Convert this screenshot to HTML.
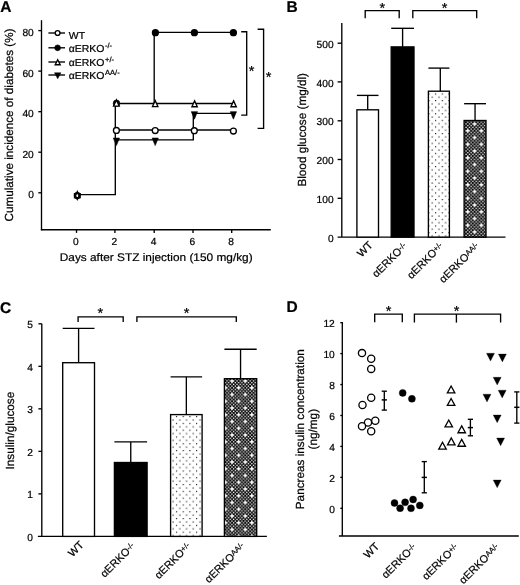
<!DOCTYPE html>
<html><head><meta charset="utf-8"><style>
html,body{margin:0;padding:0;background:#fff;}
svg{display:block;will-change:transform;}
text{font-family:"Liberation Sans",sans-serif;fill:#000;stroke:#000;stroke-width:0.22px;text-rendering:geometricPrecision;}
</style></head><body>
<svg width="520" height="585" viewBox="0 0 520 585">
<defs>
<pattern id="dotsB" patternUnits="userSpaceOnUse" x="435.03" y="93.42" width="6.7" height="6.6"><rect width="6.7" height="6.6" fill="#fff"/><rect x="0" y="0" width="1.15" height="1.15" fill="#202020"/><rect x="3.350" y="3.300" width="1.15" height="1.15" fill="#202020"/></pattern>
<pattern id="dotsC" patternUnits="userSpaceOnUse" x="175.93" y="416.03" width="6.7" height="6.8"><rect width="6.7" height="6.8" fill="#fff"/><rect x="0" y="0" width="1.15" height="1.15" fill="#202020"/><rect x="3.350" y="3.400" width="1.15" height="1.15" fill="#202020"/></pattern>
<pattern id="checkB" patternUnits="userSpaceOnUse" x="473.653" y="123.156" width="13.55" height="13.5"><rect width="13.55" height="13.5" fill="#000"/><rect x="0.169" y="1.856" width="1.355" height="1.350" fill="#fff"/><rect x="0.169" y="5.231" width="1.355" height="1.350" fill="#fff"/><rect x="0.169" y="8.606" width="1.355" height="1.350" fill="#fff"/><rect x="0.169" y="11.981" width="1.355" height="1.350" fill="#fff"/><rect x="1.863" y="0.169" width="1.355" height="1.350" fill="#fff"/><rect x="1.863" y="3.544" width="1.355" height="1.350" fill="#fff"/><rect x="1.863" y="6.919" width="1.355" height="1.350" fill="#fff"/><rect x="1.863" y="10.294" width="1.355" height="1.350" fill="#fff"/><rect x="3.557" y="1.856" width="1.355" height="1.350" fill="#fff"/><rect x="3.557" y="5.231" width="1.355" height="1.350" fill="#fff"/><rect x="3.557" y="8.606" width="1.355" height="1.350" fill="#fff"/><rect x="3.557" y="11.981" width="1.355" height="1.350" fill="#fff"/><rect x="5.251" y="0.169" width="1.355" height="1.350" fill="#fff"/><rect x="5.251" y="3.544" width="1.355" height="1.350" fill="#fff"/><rect x="5.251" y="6.919" width="1.355" height="1.350" fill="#fff"/><rect x="5.251" y="10.294" width="1.355" height="1.350" fill="#fff"/><rect x="6.944" y="1.856" width="1.355" height="1.350" fill="#fff"/><rect x="6.944" y="5.231" width="1.355" height="1.350" fill="#fff"/><rect x="6.944" y="8.606" width="1.355" height="1.350" fill="#fff"/><rect x="6.944" y="11.981" width="1.355" height="1.350" fill="#fff"/><rect x="8.638" y="0.169" width="1.355" height="1.350" fill="#fff"/><rect x="8.638" y="3.544" width="1.355" height="1.350" fill="#fff"/><rect x="8.638" y="6.919" width="1.355" height="1.350" fill="#fff"/><rect x="8.638" y="10.294" width="1.355" height="1.350" fill="#fff"/><rect x="10.332" y="1.856" width="1.355" height="1.350" fill="#fff"/><rect x="10.332" y="5.231" width="1.355" height="1.350" fill="#fff"/><rect x="10.332" y="8.606" width="1.355" height="1.350" fill="#fff"/><rect x="10.332" y="11.981" width="1.355" height="1.350" fill="#fff"/><rect x="12.026" y="0.169" width="1.355" height="1.350" fill="#fff"/><rect x="12.026" y="3.544" width="1.355" height="1.350" fill="#fff"/><rect x="12.026" y="6.919" width="1.355" height="1.350" fill="#fff"/><rect x="12.026" y="10.294" width="1.355" height="1.350" fill="#fff"/><path d="M0.847,-1.656 L1.597,0.094 L3.347,0.844 L1.597,1.594 L0.847,3.344 L0.097,1.594 L-1.653,0.844 L0.097,0.094Z M14.397,-1.656 L15.147,0.094 L16.897,0.844 L15.147,1.594 L14.397,3.344 L13.647,1.594 L11.897,0.844 L13.647,0.094Z M0.847,11.844 L1.597,13.594 L3.347,14.344 L1.597,15.094 L0.847,16.844 L0.097,15.094 L-1.653,14.344 L0.097,13.594Z M14.397,11.844 L15.147,13.594 L16.897,14.344 L15.147,15.094 L14.397,16.844 L13.647,15.094 L11.897,14.344 L13.647,13.594Z M-12.703,-1.656 L-11.953,0.094 L-10.203,0.844 L-11.953,1.594 L-12.703,3.344 L-13.453,1.594 L-15.203,0.844 L-13.453,0.094Z M0.847,-15.156 L1.597,-13.406 L3.347,-12.656 L1.597,-11.906 L0.847,-10.156 L0.097,-11.906 L-1.653,-12.656 L0.097,-13.406Z M7.622,5.094 L8.372,6.844 L10.122,7.594 L8.372,8.344 L7.622,10.094 L6.872,8.344 L5.122,7.594 L6.872,6.844Z" fill="#fff"/></pattern>
<pattern id="checkC" patternUnits="userSpaceOnUse" x="231.175" y="380.156" width="13.2" height="13.5"><rect width="13.2" height="13.5" fill="#000"/><rect x="0.165" y="1.856" width="1.320" height="1.350" fill="#fff"/><rect x="0.165" y="5.231" width="1.320" height="1.350" fill="#fff"/><rect x="0.165" y="8.606" width="1.320" height="1.350" fill="#fff"/><rect x="0.165" y="11.981" width="1.320" height="1.350" fill="#fff"/><rect x="1.815" y="0.169" width="1.320" height="1.350" fill="#fff"/><rect x="1.815" y="3.544" width="1.320" height="1.350" fill="#fff"/><rect x="1.815" y="6.919" width="1.320" height="1.350" fill="#fff"/><rect x="1.815" y="10.294" width="1.320" height="1.350" fill="#fff"/><rect x="3.465" y="1.856" width="1.320" height="1.350" fill="#fff"/><rect x="3.465" y="5.231" width="1.320" height="1.350" fill="#fff"/><rect x="3.465" y="8.606" width="1.320" height="1.350" fill="#fff"/><rect x="3.465" y="11.981" width="1.320" height="1.350" fill="#fff"/><rect x="5.115" y="0.169" width="1.320" height="1.350" fill="#fff"/><rect x="5.115" y="3.544" width="1.320" height="1.350" fill="#fff"/><rect x="5.115" y="6.919" width="1.320" height="1.350" fill="#fff"/><rect x="5.115" y="10.294" width="1.320" height="1.350" fill="#fff"/><rect x="6.765" y="1.856" width="1.320" height="1.350" fill="#fff"/><rect x="6.765" y="5.231" width="1.320" height="1.350" fill="#fff"/><rect x="6.765" y="8.606" width="1.320" height="1.350" fill="#fff"/><rect x="6.765" y="11.981" width="1.320" height="1.350" fill="#fff"/><rect x="8.415" y="0.169" width="1.320" height="1.350" fill="#fff"/><rect x="8.415" y="3.544" width="1.320" height="1.350" fill="#fff"/><rect x="8.415" y="6.919" width="1.320" height="1.350" fill="#fff"/><rect x="8.415" y="10.294" width="1.320" height="1.350" fill="#fff"/><rect x="10.065" y="1.856" width="1.320" height="1.350" fill="#fff"/><rect x="10.065" y="5.231" width="1.320" height="1.350" fill="#fff"/><rect x="10.065" y="8.606" width="1.320" height="1.350" fill="#fff"/><rect x="10.065" y="11.981" width="1.320" height="1.350" fill="#fff"/><rect x="11.715" y="0.169" width="1.320" height="1.350" fill="#fff"/><rect x="11.715" y="3.544" width="1.320" height="1.350" fill="#fff"/><rect x="11.715" y="6.919" width="1.320" height="1.350" fill="#fff"/><rect x="11.715" y="10.294" width="1.320" height="1.350" fill="#fff"/><path d="M0.825,-1.656 L1.575,0.094 L3.325,0.844 L1.575,1.594 L0.825,3.344 L0.075,1.594 L-1.675,0.844 L0.075,0.094Z M14.025,-1.656 L14.775,0.094 L16.525,0.844 L14.775,1.594 L14.025,3.344 L13.275,1.594 L11.525,0.844 L13.275,0.094Z M0.825,11.844 L1.575,13.594 L3.325,14.344 L1.575,15.094 L0.825,16.844 L0.075,15.094 L-1.675,14.344 L0.075,13.594Z M14.025,11.844 L14.775,13.594 L16.525,14.344 L14.775,15.094 L14.025,16.844 L13.275,15.094 L11.525,14.344 L13.275,13.594Z M-12.375,-1.656 L-11.625,0.094 L-9.875,0.844 L-11.625,1.594 L-12.375,3.344 L-13.125,1.594 L-14.875,0.844 L-13.125,0.094Z M0.825,-15.156 L1.575,-13.406 L3.325,-12.656 L1.575,-11.906 L0.825,-10.156 L0.075,-11.906 L-1.675,-12.656 L0.075,-13.406Z M7.425,5.094 L8.175,6.844 L9.925,7.594 L8.175,8.344 L7.425,10.094 L6.675,8.344 L4.925,7.594 L6.675,6.844Z" fill="#fff"/></pattern>
</defs>
<rect width="520" height="585" fill="#fff"/>
<text x="0.2" y="11.9" font-size="15.5" text-anchor="start" font-weight="bold" >A</text>
<line x1="41.5" y1="20.2" x2="41.5" y2="230.29999999999998" stroke="#000" stroke-width="1.35"/>
<line x1="40.9" y1="229.7" x2="270.8" y2="229.7" stroke="#000" stroke-width="1.35"/>
<line x1="38.3" y1="30.6" x2="41.5" y2="30.6" stroke="#000" stroke-width="1.35"/>
<text x="33.8" y="36.0" font-size="10.2" text-anchor="end" font-weight="normal" >80</text>
<line x1="38.3" y1="71.1" x2="41.5" y2="71.1" stroke="#000" stroke-width="1.35"/>
<text x="33.8" y="76.5" font-size="10.2" text-anchor="end" font-weight="normal" >60</text>
<line x1="38.3" y1="111.7" x2="41.5" y2="111.7" stroke="#000" stroke-width="1.35"/>
<text x="33.8" y="117.10000000000001" font-size="10.2" text-anchor="end" font-weight="normal" >40</text>
<line x1="38.3" y1="152.2" x2="41.5" y2="152.2" stroke="#000" stroke-width="1.35"/>
<text x="33.8" y="157.6" font-size="10.2" text-anchor="end" font-weight="normal" >20</text>
<line x1="38.3" y1="192.8" x2="41.5" y2="192.8" stroke="#000" stroke-width="1.35"/>
<text x="33.8" y="198.20000000000002" font-size="10.2" text-anchor="end" font-weight="normal" >0</text>
<line x1="76.5" y1="229.7" x2="76.5" y2="232.89999999999998" stroke="#000" stroke-width="1.35"/>
<text x="75.9" y="244.5" font-size="10.2" text-anchor="middle" font-weight="normal" >0</text>
<line x1="114.9" y1="229.7" x2="114.9" y2="232.89999999999998" stroke="#000" stroke-width="1.35"/>
<text x="114.30000000000001" y="244.5" font-size="10.2" text-anchor="middle" font-weight="normal" >2</text>
<line x1="154.2" y1="229.7" x2="154.2" y2="232.89999999999998" stroke="#000" stroke-width="1.35"/>
<text x="153.6" y="244.5" font-size="10.2" text-anchor="middle" font-weight="normal" >4</text>
<line x1="193" y1="229.7" x2="193" y2="232.89999999999998" stroke="#000" stroke-width="1.35"/>
<text x="192.4" y="244.5" font-size="10.2" text-anchor="middle" font-weight="normal" >6</text>
<line x1="231.7" y1="229.7" x2="231.7" y2="232.89999999999998" stroke="#000" stroke-width="1.35"/>
<text x="231.1" y="244.5" font-size="10.2" text-anchor="middle" font-weight="normal" >8</text>
<text transform="translate(156.2,260.7) scale(1.0,0.93)" font-size="11.85" text-anchor="middle" font-weight="normal" >Days after STZ injection (150 mg/kg)</text>
<text transform="translate(13.35,125.0) rotate(-90)" font-size="11.7" text-anchor="middle">Cumulative incidence of diabetes (%)</text>
<polyline points="77,194.6 115.3,194.6 115.3,103.5 232.3,103.5" fill="none" stroke="#000" stroke-width="1.35" stroke-linejoin="miter"/>
<polyline points="154.2,103.5 154.2,32.3 232.3,32.3" fill="none" stroke="#000" stroke-width="1.35" stroke-linejoin="miter"/>
<polyline points="115.3,130 232.3,130" fill="none" stroke="#000" stroke-width="1.35" stroke-linejoin="miter"/>
<polyline points="115.3,139.8 193.3,139.8 193.3,113.4 232.3,113.4" fill="none" stroke="#000" stroke-width="1.35" stroke-linejoin="miter"/>
<circle cx="77.3" cy="195.5" r="2.95" fill="#fff" stroke="#000" stroke-width="1.35"/>
<polygon points="77.30,191.65 80.00,197.55 74.60,197.55" fill="#fff" stroke="#000" stroke-width="1.35" stroke-linejoin="miter"/>
<polygon points="74.60,193.65 80.00,193.65 77.30,199.55" fill="none" stroke="#000" stroke-width="1.3" stroke-linejoin="miter"/>
<circle cx="116.5" cy="103.3" r="3.3" fill="#000" stroke="#000" stroke-width="0.6"/>
<polygon points="116.40,99.85 119.30,106.15 113.50,106.15" fill="#fff" stroke="#000" stroke-width="1.35" stroke-linejoin="miter"/>
<circle cx="116.4" cy="130.4" r="2.95" fill="#fff" stroke="#000" stroke-width="1.35"/>
<polygon points="113.30,138.05 119.50,138.05 116.40,145.55" fill="#000" stroke="#000" stroke-width="0.6" stroke-linejoin="miter"/>
<polygon points="155.20,100.65 157.90,106.55 152.50,106.55" fill="#fff" stroke="#000" stroke-width="1.35" stroke-linejoin="miter"/>
<circle cx="155.2" cy="130.5" r="2.95" fill="#fff" stroke="#000" stroke-width="1.35"/>
<polygon points="152.10,138.05 158.30,138.05 155.20,145.55" fill="#000" stroke="#000" stroke-width="0.6" stroke-linejoin="miter"/>
<circle cx="155.4" cy="32.7" r="2.95" fill="#000" stroke="#000" stroke-width="1.35"/>
<polygon points="194.60,100.85 197.30,106.75 191.90,106.75" fill="#fff" stroke="#000" stroke-width="1.35" stroke-linejoin="miter"/>
<circle cx="194.3" cy="130.7" r="2.95" fill="#fff" stroke="#000" stroke-width="1.35"/>
<polygon points="191.30,111.65 197.50,111.65 194.40,119.15" fill="#000" stroke="#000" stroke-width="0.6" stroke-linejoin="miter"/>
<circle cx="194.4" cy="32.7" r="2.95" fill="#000" stroke="#000" stroke-width="1.35"/>
<polygon points="233.60,100.85 236.30,106.75 230.90,106.75" fill="#fff" stroke="#000" stroke-width="1.35" stroke-linejoin="miter"/>
<circle cx="233.4" cy="131" r="2.95" fill="#fff" stroke="#000" stroke-width="1.35"/>
<polygon points="230.30,111.65 236.50,111.65 233.40,119.15" fill="#000" stroke="#000" stroke-width="0.6" stroke-linejoin="miter"/>
<circle cx="233.4" cy="32.7" r="2.95" fill="#000" stroke="#000" stroke-width="1.35"/>
<polyline points="241.2,31.7 246.7,31.7 246.7,115.1 241.2,115.1" fill="none" stroke="#000" stroke-width="1.35" stroke-linejoin="miter"/>
<polyline points="257.6,29.2 263.6,29.2 263.6,128.3 257.6,128.3" fill="none" stroke="#000" stroke-width="1.35" stroke-linejoin="miter"/>
<text x="251.5" y="76.095" font-size="14.5" text-anchor="middle" font-weight="normal" >*</text>
<text x="268.5" y="81.99499999999999" font-size="14.5" text-anchor="middle" font-weight="normal" >*</text>
<line x1="48.4" y1="33.0" x2="65" y2="33.0" stroke="#000" stroke-width="1.35"/>
<text transform="translate(68.8,38.5) scale(1.035,1.0)" font-size="10.1" text-anchor="start" font-weight="normal" >WT</text>
<line x1="48.4" y1="47.8" x2="65" y2="47.8" stroke="#000" stroke-width="1.35"/>
<text transform="translate(68.8,52.4) scale(1.035,1.0)" font-size="10.1" text-anchor="start" font-weight="normal" >αERKO<tspan dx="0.5" font-size="7.3" dy="-4.1">-/-</tspan></text>
<line x1="48.4" y1="62.0" x2="65" y2="62.0" stroke="#000" stroke-width="1.35"/>
<text transform="translate(68.8,65.6) scale(1.035,1.0)" font-size="10.1" text-anchor="start" font-weight="normal" >αERKO<tspan dx="0.5" font-size="7.3" dy="-4.1">+/-</tspan></text>
<line x1="48.4" y1="75.0" x2="65" y2="75.0" stroke="#000" stroke-width="1.35"/>
<text transform="translate(68.8,79.4) scale(1.035,1.0)" font-size="10.1" text-anchor="start" font-weight="normal" >αERKO<tspan dx="0.5" font-size="7.3" dy="-4.1">AA/-</tspan></text>
<circle cx="57.6" cy="33.0" r="2.4" fill="#fff" stroke="#000" stroke-width="1.35"/>
<circle cx="57.6" cy="47.8" r="2.9" fill="#000" stroke="#000" stroke-width="0.6"/>
<polygon points="57.70,59.70 60.20,64.70 55.20,64.70" fill="#fff" stroke="#000" stroke-width="1.35" stroke-linejoin="miter"/>
<polygon points="54.50,72.80 60.90,72.80 57.70,78.80" fill="#000" stroke="#000" stroke-width="0.5" stroke-linejoin="miter"/>
<text x="286.6" y="11.9" font-size="15.5" text-anchor="start" font-weight="bold" >B</text>
<line x1="341.8" y1="23" x2="341.8" y2="237.1" stroke="#000" stroke-width="1.35"/>
<line x1="337.6" y1="237.1" x2="505.5" y2="237.1" stroke="#000" stroke-width="1.35"/>
<line x1="337.6" y1="43.2" x2="341.8" y2="43.2" stroke="#000" stroke-width="1.35"/>
<text x="333.6" y="47.800000000000004" font-size="10.2" text-anchor="end" font-weight="normal" >500</text>
<line x1="337.6" y1="81.9" x2="341.8" y2="81.9" stroke="#000" stroke-width="1.35"/>
<text x="333.6" y="86.5" font-size="10.2" text-anchor="end" font-weight="normal" >400</text>
<line x1="337.6" y1="120.8" x2="341.8" y2="120.8" stroke="#000" stroke-width="1.35"/>
<text x="333.6" y="125.39999999999999" font-size="10.2" text-anchor="end" font-weight="normal" >300</text>
<line x1="337.6" y1="159.5" x2="341.8" y2="159.5" stroke="#000" stroke-width="1.35"/>
<text x="333.6" y="164.1" font-size="10.2" text-anchor="end" font-weight="normal" >200</text>
<line x1="337.6" y1="198.3" x2="341.8" y2="198.3" stroke="#000" stroke-width="1.35"/>
<text x="333.6" y="202.9" font-size="10.2" text-anchor="end" font-weight="normal" >100</text>
<text x="333.6" y="241.7" font-size="10.2" text-anchor="end" font-weight="normal" >0</text>
<text transform="translate(305.8,129.8) rotate(-90)" font-size="11.75" text-anchor="middle">Blood glucose (mg/dl)</text>
<line x1="367.7" y1="95.4" x2="367.7" y2="109.8" stroke="#000" stroke-width="1.35"/>
<line x1="356.9" y1="95.4" x2="378.5" y2="95.4" stroke="#000" stroke-width="1.35"/>
<rect x="356.9" y="109.8" width="21.600000000000023" height="127.3" fill="#fff" stroke="#000" stroke-width="1.35"/>
<line x1="402.6" y1="28.3" x2="402.6" y2="46.9" stroke="#000" stroke-width="1.35"/>
<line x1="391.2" y1="28.3" x2="414" y2="28.3" stroke="#000" stroke-width="1.35"/>
<rect x="391.2" y="46.9" width="22.80000000000001" height="190.2" fill="#000" stroke="#000" stroke-width="1.35"/>
<line x1="440.3" y1="68.1" x2="440.3" y2="91.2" stroke="#000" stroke-width="1.35"/>
<line x1="428.4" y1="68.1" x2="449.4" y2="68.1" stroke="#000" stroke-width="1.35"/>
<rect x="428.4" y="91.2" width="21.0" height="145.89999999999998" fill="url(#dotsB)" stroke="#000" stroke-width="1.35"/>
<line x1="475.05" y1="103.7" x2="475.05" y2="120.5" stroke="#000" stroke-width="1.35"/>
<line x1="464.1" y1="103.7" x2="486" y2="103.7" stroke="#000" stroke-width="1.35"/>
<rect x="464.1" y="120.5" width="21.899999999999977" height="116.6" fill="url(#checkB)" stroke="#000" stroke-width="1.35"/>
<text transform="translate(373.5,245.8) rotate(-45)" font-size="10.8" text-anchor="end">WT</text>
<text transform="translate(407.6,247) rotate(-45)" font-size="10.8" text-anchor="end">αERKO<tspan font-size="7.6" dy="-2.0">-/-</tspan></text>
<text transform="translate(443.9,247) rotate(-45)" font-size="10.8" text-anchor="end">αERKO<tspan font-size="7.6" dy="-2.0">+/-</tspan></text>
<text transform="translate(480.05,247) rotate(-45)" font-size="10.8" text-anchor="end">αERKO<tspan font-size="7.6" dy="-2.0">AA/-</tspan></text>
<polyline points="365.2,18.2 365.2,10.6 399.2,10.6 399.2,18.2" fill="none" stroke="#000" stroke-width="1.35" stroke-linejoin="miter"/>
<polyline points="412.8,18.2 412.8,10.6 476.7,10.6 476.7,18.2" fill="none" stroke="#000" stroke-width="1.35" stroke-linejoin="miter"/>
<text x="382.4" y="13.095" font-size="14.5" text-anchor="middle" font-weight="normal" >*</text>
<text x="444.7" y="13.095" font-size="14.5" text-anchor="middle" font-weight="normal" >*</text>
<text x="0.0" y="312.7" font-size="15.5" text-anchor="start" font-weight="bold" >C</text>
<line x1="41.8" y1="323.8" x2="41.8" y2="536.4" stroke="#000" stroke-width="1.35"/>
<line x1="37.9" y1="536.4" x2="266.9" y2="536.4" stroke="#000" stroke-width="1.35"/>
<text x="32.8" y="540.6" font-size="10.2" text-anchor="end" font-weight="normal" >0</text>
<line x1="38.4" y1="493.88" x2="41.8" y2="493.88" stroke="#000" stroke-width="1.35"/>
<text x="32.8" y="498.08" font-size="10.2" text-anchor="end" font-weight="normal" >1</text>
<line x1="38.4" y1="451.35999999999996" x2="41.8" y2="451.35999999999996" stroke="#000" stroke-width="1.35"/>
<text x="32.8" y="455.55999999999995" font-size="10.2" text-anchor="end" font-weight="normal" >2</text>
<line x1="38.4" y1="408.84" x2="41.8" y2="408.84" stroke="#000" stroke-width="1.35"/>
<text x="32.8" y="413.03999999999996" font-size="10.2" text-anchor="end" font-weight="normal" >3</text>
<line x1="38.4" y1="366.31999999999994" x2="41.8" y2="366.31999999999994" stroke="#000" stroke-width="1.35"/>
<text x="32.8" y="370.5199999999999" font-size="10.2" text-anchor="end" font-weight="normal" >4</text>
<line x1="38.4" y1="323.79999999999995" x2="41.8" y2="323.79999999999995" stroke="#000" stroke-width="1.35"/>
<text x="32.8" y="327.99999999999994" font-size="10.2" text-anchor="end" font-weight="normal" >5</text>
<text transform="translate(14.2,430.6) rotate(-90)" font-size="11.75" text-anchor="middle">Insulin/glucose</text>
<line x1="78.6" y1="328.4" x2="78.6" y2="362.7" stroke="#000" stroke-width="1.35"/>
<line x1="62.7" y1="328.4" x2="94.5" y2="328.4" stroke="#000" stroke-width="1.35"/>
<rect x="62.7" y="362.7" width="31.799999999999997" height="173.7" fill="#fff" stroke="#000" stroke-width="1.35"/>
<line x1="130.75" y1="441.9" x2="130.75" y2="462.5" stroke="#000" stroke-width="1.35"/>
<line x1="114.4" y1="441.9" x2="147.1" y2="441.9" stroke="#000" stroke-width="1.35"/>
<rect x="114.4" y="462.5" width="32.69999999999999" height="73.89999999999998" fill="#000" stroke="#000" stroke-width="1.35"/>
<line x1="186.35" y1="376.8" x2="186.35" y2="414.6" stroke="#000" stroke-width="1.35"/>
<line x1="170.6" y1="376.8" x2="202.1" y2="376.8" stroke="#000" stroke-width="1.35"/>
<rect x="170.6" y="414.6" width="31.5" height="121.79999999999995" fill="url(#dotsC)" stroke="#000" stroke-width="1.35"/>
<line x1="240.55" y1="349.2" x2="240.55" y2="378.7" stroke="#000" stroke-width="1.35"/>
<line x1="224.4" y1="349.2" x2="256.7" y2="349.2" stroke="#000" stroke-width="1.35"/>
<rect x="224.4" y="378.7" width="32.29999999999998" height="157.7" fill="url(#checkC)" stroke="#000" stroke-width="1.35"/>
<text transform="translate(84.39999999999999,545.7) rotate(-45)" font-size="10.8" text-anchor="end">WT</text>
<text transform="translate(135.75,547) rotate(-45)" font-size="10.8" text-anchor="end">αERKO<tspan font-size="7.6" dy="-2.0">-/-</tspan></text>
<text transform="translate(191.35,547) rotate(-45)" font-size="10.8" text-anchor="end">αERKO<tspan font-size="7.6" dy="-2.0">+/-</tspan></text>
<text transform="translate(245.55,547) rotate(-45)" font-size="10.8" text-anchor="end">αERKO<tspan font-size="7.6" dy="-2.0">AA/-</tspan></text>
<polyline points="78.1,321.9 78.1,316.8 123.2,316.8 123.2,321.9" fill="none" stroke="#000" stroke-width="1.35" stroke-linejoin="miter"/>
<polyline points="136.9,321.9 136.9,316.8 236.3,316.8 236.3,321.9" fill="none" stroke="#000" stroke-width="1.35" stroke-linejoin="miter"/>
<text x="100.4" y="317.79499999999996" font-size="14.5" text-anchor="middle" font-weight="normal" >*</text>
<text x="186.7" y="317.79499999999996" font-size="14.5" text-anchor="middle" font-weight="normal" >*</text>
<text x="286.5" y="311.7" font-size="15.5" text-anchor="start" font-weight="bold" >D</text>
<line x1="342.3" y1="321.9" x2="342.3" y2="536" stroke="#000" stroke-width="1.35"/>
<line x1="338.9" y1="536" x2="518.8" y2="536" stroke="#000" stroke-width="1.35"/>
<line x1="340.3" y1="508.3" x2="342.3" y2="508.3" stroke="#000" stroke-width="1.35"/>
<text x="334.8" y="512.65" font-size="10.2" text-anchor="end" font-weight="normal" >0</text>
<line x1="340.3" y1="477.36" x2="342.3" y2="477.36" stroke="#000" stroke-width="1.35"/>
<text x="334.8" y="481.71000000000004" font-size="10.2" text-anchor="end" font-weight="normal" >2</text>
<line x1="340.3" y1="446.42" x2="342.3" y2="446.42" stroke="#000" stroke-width="1.35"/>
<text x="334.8" y="450.77000000000004" font-size="10.2" text-anchor="end" font-weight="normal" >4</text>
<line x1="340.3" y1="415.48" x2="342.3" y2="415.48" stroke="#000" stroke-width="1.35"/>
<text x="334.8" y="419.83000000000004" font-size="10.2" text-anchor="end" font-weight="normal" >6</text>
<line x1="340.3" y1="384.54" x2="342.3" y2="384.54" stroke="#000" stroke-width="1.35"/>
<text x="334.8" y="388.89000000000004" font-size="10.2" text-anchor="end" font-weight="normal" >8</text>
<line x1="340.3" y1="353.6" x2="342.3" y2="353.6" stroke="#000" stroke-width="1.35"/>
<text x="334.8" y="357.95000000000005" font-size="10.2" text-anchor="end" font-weight="normal" >10</text>
<line x1="340.3" y1="322.65999999999997" x2="342.3" y2="322.65999999999997" stroke="#000" stroke-width="1.35"/>
<text x="334.8" y="327.01" font-size="10.2" text-anchor="end" font-weight="normal" >12</text>
<text transform="translate(304,429.2) rotate(-90)" font-size="11.75" text-anchor="middle">Pancreas insulin concentration</text>
<text transform="translate(317,429.2) rotate(-90)" font-size="11.75" text-anchor="middle">(ng/mg)</text>
<polyline points="374.7,322.2 374.7,314.1 402.3,314.1 402.3,322.2" fill="none" stroke="#000" stroke-width="1.35" stroke-linejoin="miter"/>
<polyline points="414.4,322.6 414.4,314.1 500.6,314.1 500.6,322.6" fill="none" stroke="#000" stroke-width="1.35" stroke-linejoin="miter"/>
<line x1="456.4" y1="314.1" x2="456.4" y2="322.6" stroke="#000" stroke-width="1.35"/>
<text x="388.6" y="316.09499999999997" font-size="14.5" text-anchor="middle" font-weight="normal" >*</text>
<text x="456.5" y="316.09499999999997" font-size="14.5" text-anchor="middle" font-weight="normal" >*</text>
<circle cx="362" cy="353.1" r="3.6" fill="#fff" stroke="#000" stroke-width="1.3"/>
<circle cx="371.2" cy="358.8" r="3.6" fill="#fff" stroke="#000" stroke-width="1.3"/>
<circle cx="371.2" cy="368.9" r="3.6" fill="#fff" stroke="#000" stroke-width="1.3"/>
<circle cx="371.2" cy="397.7" r="3.6" fill="#fff" stroke="#000" stroke-width="1.3"/>
<circle cx="362.5" cy="405" r="3.6" fill="#fff" stroke="#000" stroke-width="1.3"/>
<circle cx="375.3" cy="420.8" r="3.6" fill="#fff" stroke="#000" stroke-width="1.3"/>
<circle cx="368" cy="422.5" r="3.6" fill="#fff" stroke="#000" stroke-width="1.3"/>
<circle cx="362" cy="426.3" r="3.6" fill="#fff" stroke="#000" stroke-width="1.3"/>
<circle cx="371.2" cy="431.3" r="3.6" fill="#fff" stroke="#000" stroke-width="1.3"/>
<circle cx="402.7" cy="392.9" r="3.5" fill="#000" stroke="#000" stroke-width="0.4"/>
<circle cx="411.9" cy="398.8" r="3.5" fill="#000" stroke="#000" stroke-width="0.4"/>
<circle cx="394.5" cy="503" r="3.5" fill="#000" stroke="#000" stroke-width="0.4"/>
<circle cx="400.1" cy="508.2" r="3.5" fill="#000" stroke="#000" stroke-width="0.4"/>
<circle cx="405.1" cy="502.3" r="3.5" fill="#000" stroke="#000" stroke-width="0.4"/>
<circle cx="411" cy="508.3" r="3.5" fill="#000" stroke="#000" stroke-width="0.4"/>
<circle cx="413.1" cy="499.5" r="3.5" fill="#000" stroke="#000" stroke-width="0.4"/>
<circle cx="419.8" cy="505.4" r="3.5" fill="#000" stroke="#000" stroke-width="0.4"/>
<polygon points="451.10,386.05 454.85,392.95 447.35,392.95" fill="#fff" stroke="#000" stroke-width="1.3" stroke-linejoin="miter"/>
<polygon points="451.10,398.55 454.85,405.45 447.35,405.45" fill="#fff" stroke="#000" stroke-width="1.3" stroke-linejoin="miter"/>
<polygon points="448.75,420.05 452.50,426.95 445.00,426.95" fill="#fff" stroke="#000" stroke-width="1.3" stroke-linejoin="miter"/>
<polygon points="461.70,425.85 465.45,432.75 457.95,432.75" fill="#fff" stroke="#000" stroke-width="1.3" stroke-linejoin="miter"/>
<polygon points="451.30,437.95 455.05,444.85 447.55,444.85" fill="#fff" stroke="#000" stroke-width="1.3" stroke-linejoin="miter"/>
<polygon points="461.70,439.35 465.45,446.25 457.95,446.25" fill="#fff" stroke="#000" stroke-width="1.3" stroke-linejoin="miter"/>
<polygon points="442.50,442.25 446.25,449.15 438.75,449.15" fill="#fff" stroke="#000" stroke-width="1.3" stroke-linejoin="miter"/>
<polygon points="486.50,353.30 494.50,353.30 490.50,361.10" fill="#000" stroke="#000" stroke-width="0.3" stroke-linejoin="miter"/>
<polygon points="498.40,354.10 506.40,354.10 502.40,361.90" fill="#000" stroke="#000" stroke-width="0.3" stroke-linejoin="miter"/>
<polygon points="493.20,377.30 501.20,377.30 497.20,385.10" fill="#000" stroke="#000" stroke-width="0.3" stroke-linejoin="miter"/>
<polygon points="498.20,390.20 506.20,390.20 502.20,398.00" fill="#000" stroke="#000" stroke-width="0.3" stroke-linejoin="miter"/>
<polygon points="483.00,394.20 491.00,394.20 487.00,402.00" fill="#000" stroke="#000" stroke-width="0.3" stroke-linejoin="miter"/>
<polygon points="493.20,415.00 501.20,415.00 497.20,422.80" fill="#000" stroke="#000" stroke-width="0.3" stroke-linejoin="miter"/>
<polygon points="496.60,438.00 504.60,438.00 500.60,445.80" fill="#000" stroke="#000" stroke-width="0.3" stroke-linejoin="miter"/>
<polygon points="493.20,480.00 501.20,480.00 497.20,487.80" fill="#000" stroke="#000" stroke-width="0.3" stroke-linejoin="miter"/>
<line x1="384.3" y1="391.2" x2="384.3" y2="410.1" stroke="#000" stroke-width="1.35"/>
<line x1="381.7" y1="391.2" x2="386.90000000000003" y2="391.2" stroke="#000" stroke-width="1.35"/>
<line x1="381.7" y1="399.9" x2="386.90000000000003" y2="399.9" stroke="#000" stroke-width="1.5"/>
<line x1="381.7" y1="410.1" x2="386.90000000000003" y2="410.1" stroke="#000" stroke-width="1.35"/>
<line x1="424.3" y1="461.6" x2="424.3" y2="492.8" stroke="#000" stroke-width="1.35"/>
<line x1="421.7" y1="461.6" x2="426.90000000000003" y2="461.6" stroke="#000" stroke-width="1.35"/>
<line x1="421.7" y1="477.4" x2="426.90000000000003" y2="477.4" stroke="#000" stroke-width="1.5"/>
<line x1="421.7" y1="492.8" x2="426.90000000000003" y2="492.8" stroke="#000" stroke-width="1.35"/>
<line x1="470.4" y1="419.3" x2="470.4" y2="435.8" stroke="#000" stroke-width="1.35"/>
<line x1="467.79999999999995" y1="419.3" x2="473.0" y2="419.3" stroke="#000" stroke-width="1.35"/>
<line x1="467.79999999999995" y1="427.6" x2="473.0" y2="427.6" stroke="#000" stroke-width="1.5"/>
<line x1="467.79999999999995" y1="435.8" x2="473.0" y2="435.8" stroke="#000" stroke-width="1.35"/>
<line x1="516.8" y1="391.9" x2="516.8" y2="423.1" stroke="#000" stroke-width="1.35"/>
<line x1="514.1999999999999" y1="391.9" x2="519.4" y2="391.9" stroke="#000" stroke-width="1.35"/>
<line x1="514.1999999999999" y1="407.3" x2="519.4" y2="407.3" stroke="#000" stroke-width="1.5"/>
<line x1="514.1999999999999" y1="423.1" x2="519.4" y2="423.1" stroke="#000" stroke-width="1.35"/>
<text transform="translate(380.0,547.0) rotate(-45)" font-size="10.8" text-anchor="end">WT</text>
<text transform="translate(417,548) rotate(-45)" font-size="10.8" text-anchor="end">αERKO<tspan font-size="7.6" dy="-2.0">-/-</tspan></text>
<text transform="translate(459,548) rotate(-45)" font-size="10.8" text-anchor="end">αERKO<tspan font-size="7.6" dy="-2.0">+/-</tspan></text>
<text transform="translate(500,548) rotate(-45)" font-size="10.8" text-anchor="end">αERKO<tspan font-size="7.6" dy="-2.0">AA/-</tspan></text>
</svg>
</body></html>
